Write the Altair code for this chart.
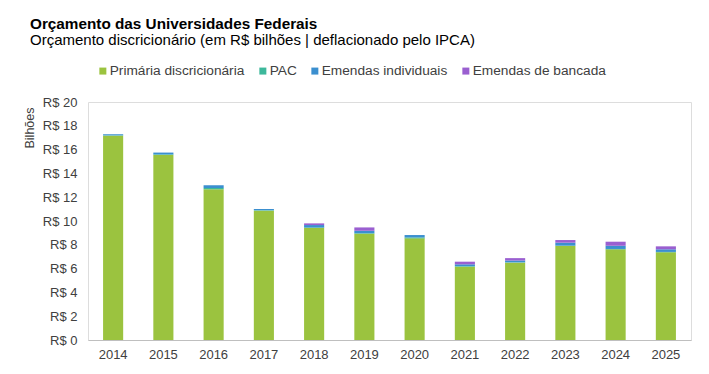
import altair as alt
import pandas as pd

years = ["2014", "2015", "2016", "2017", "2018", "2019", "2020", "2021", "2022", "2023", "2024", "2025"]
series_names = ["Primária discricionária", "PAC", "Emendas individuais", "Emendas de bancada"]
primaria = [17.17, 15.55, 12.66, 10.87, 9.41, 8.93, 8.54, 6.16, 6.50, 7.90, 7.62, 7.37]
pac = [0.03, 0.05, 0.12, 0.04, 0.05, 0.05, 0.08, 0.05, 0.03, 0.03, 0.03, 0.03]
indiv = [0.09, 0.15, 0.22, 0.10, 0.20, 0.20, 0.20, 0.15, 0.15, 0.25, 0.27, 0.22]
bancada = [0.0, 0.0, 0.0, 0.0, 0.14, 0.28, 0.0, 0.22, 0.20, 0.22, 0.34, 0.25]
colors = ["#9BC33F", "#3DB89B", "#3B8FCF", "#9A5FD0"]
y_ticks = [0, 2, 4, 6, 8, 10, 12, 14, 16, 18, 20]

rows = []
for vals, name, k in zip([primaria, pac, indiv, bancada], series_names, range(4)):
    for yr, v in zip(years, vals):
        rows.append({"Ano": yr, "Série": name, "Valor": v, "ordem": k})
df = pd.DataFrame(rows)

FONT = "Liberation Sans"

chart = alt.Chart(df).mark_bar().encode(
    x=alt.X("Ano:N", sort=years,
            scale=alt.Scale(paddingInner=0.6, paddingOuter=0.3),
            axis=alt.Axis(title=None, labelAngle=0, ticks=False, domainColor="#BFBFBF",
                          labelPadding=8, labelFontSize=13, labelColor="#404040", labelFont=FONT)),
    y=alt.Y("Valor:Q", stack="zero",
            scale=alt.Scale(domain=[0, 20], nice=False),
            axis=alt.Axis(values=y_ticks, labelExpr="'R$ ' + datum.value", grid=False,
                          ticks=False, domain=False, labelPadding=11, labelFontSize=13,
                          labelColor="#404040", labelFont=FONT,
                          title="Bilhões", titleFont=FONT, titleFontSize=12.5, titleFontWeight="normal",
                          titleColor="#404040", titleAngle=-90, titleX=-59, titleY=5,
                          titleAlign="right", titleBaseline="middle")),
    color=alt.Color("Série:N", sort=series_names,
                    scale=alt.Scale(domain=series_names, range=colors),
                    legend=alt.Legend(title=None, orient="none", direction="horizontal",
                                      legendX=8, legendY=-38, symbolType="square", symbolSize=49,
                                      symbolStrokeWidth=0, labelFont=FONT, labelFontSize=13.7,
                                      labelColor="#404040", labelOffset=0, columnPadding=11)),
    order=alt.Order("ordem:Q", sort="ascending"),
).properties(
    width=603,
    height=238,
    title=alt.TitleParams(
        text="Orçamento das Universidades Federais",
        subtitle="Orçamento discricionário (em R$ bilhões | deflacionado pelo IPCA)",
        anchor="start", frame="group", dx=-58, offset=16,
        font=FONT, fontSize=15.3, fontWeight="bold", color="#000000",
        subtitleFont=FONT, subtitleFontSize=15, subtitleColor="#000000",
        subtitlePadding=1,
    ),
    padding={"left": 80, "top": 94, "right": 8, "bottom": 20},
    autosize=alt.AutoSizeParams(type="none"),
).configure_view(stroke=None).configure(background="white")

chart.save("out.html", embed_options={"renderer": "svg", "actions": False})
